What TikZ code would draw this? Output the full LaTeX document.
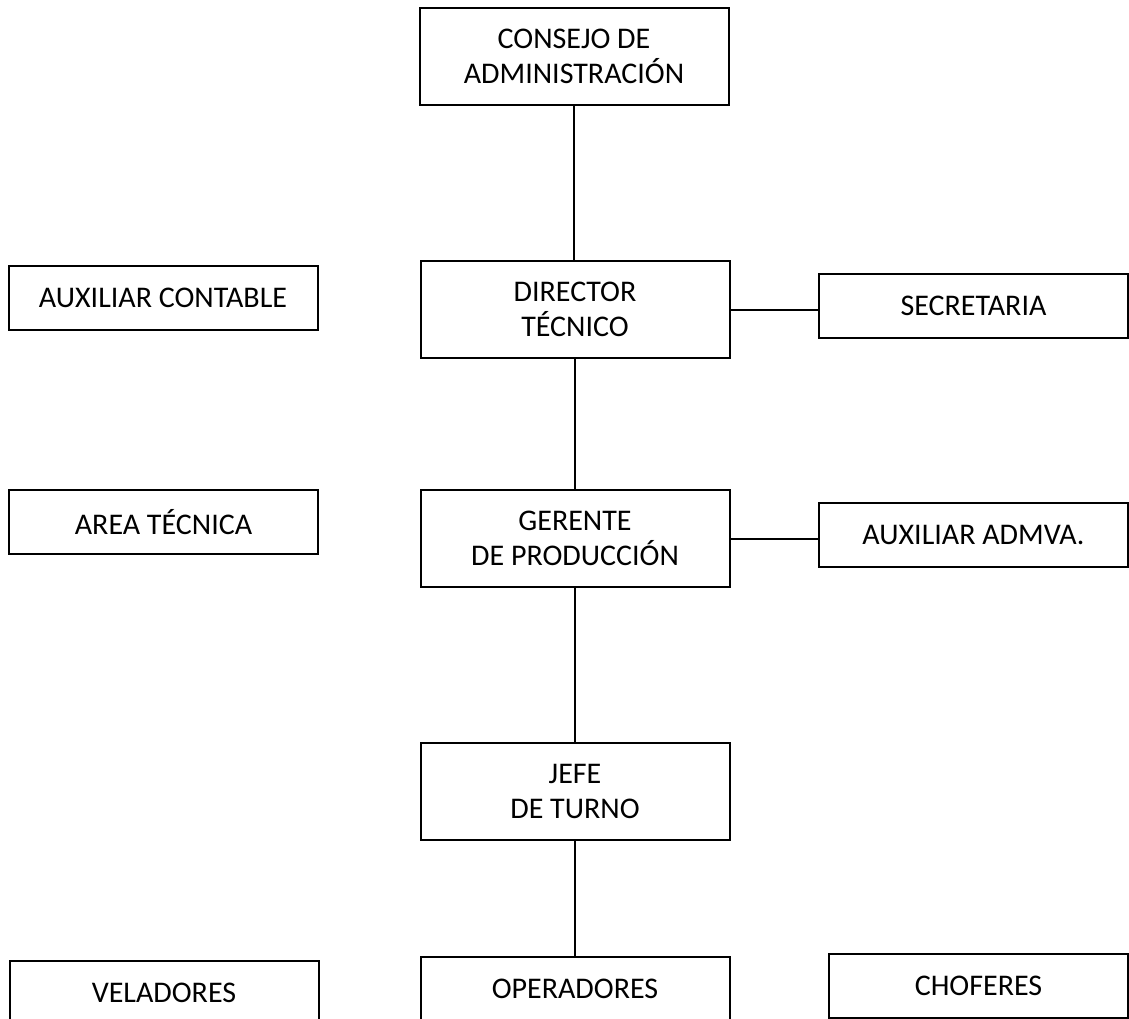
\documentclass[tikz,border=0pt]{standalone}
\usepackage{fontspec}
\setmainfont{Carlito}
\begin{document}
\begin{tikzpicture}[x=1pt, y=-1pt,
        box/.style={draw, line width=2pt, inner sep=0pt, minimum width=309pt, minimum height=64pt, align=center, font=\fontsize{30}{35}\selectfont},
        bigbox/.style={box, minimum height=97pt},
        link/.style={line width=2pt}]
        \useasboundingbox (0,0) rectangle (1129,1018);
        \clip (0,0) rectangle (1129,1018);

        % Central column
        \node[bigbox] (consejo) at (574,56) {CONSEJO DE\\ADMINISTRACIÓN};
        \node[bigbox] (director) at (575,309.5) {DIRECTOR\\TÉCNICO};
        \node[bigbox] (gerente) at (575,538.5) {GERENTE\\DE PRODUCCIÓN};
        \node[bigbox] (jefe) at (575,791) {JEFE\\DE TURNO};

        % Side boxes
        \node[box] (auxcont) at (163,297.5) {AUXILIAR CONTABLE};
        \node[box] (areatec) at (163.5,522) {AREA TÉCNICA};
        \node[box] (secre) at (973.5,306) {SECRETARIA};
        \node[box] (auxadm) at (973.5,535) {AUXILIAR ADMVA.};

        % Bottom row
        \node[box] (veladores) at (164,993) {VELADORES};
        \node[box] (operadores) at (575,989) {OPERADORES};
        \node[box, minimum width=299pt] (choferes) at (978.5,986) {CHOFERES};

        % Lines
        \draw[link] (consejo.south) -- (consejo.south |- director.north);
        \draw[link] (director) -- (gerente);
        \draw[link] (gerente) -- (jefe);
        \draw[link] (jefe) -- (operadores);
        \draw[link] (director.east) -- (director.east -| secre.west);
        \draw[link] (gerente.east) -- (gerente.east -| auxadm.west);
    \end{tikzpicture}
\end{document}
